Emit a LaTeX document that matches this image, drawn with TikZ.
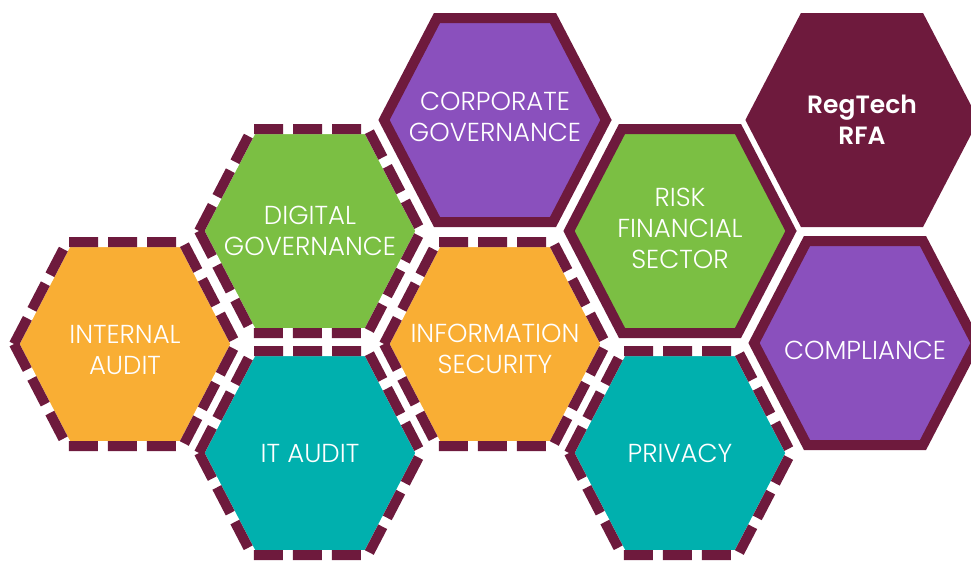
\documentclass[tikz,border=0pt]{standalone}
\usepackage{fontspec}
\setmainfont{Poppins}[UprightFont=* Light, BoldFont=* SemiBold]
\definecolor{hexmaroon}{HTML}{6E1A3D}
\definecolor{hexpurple}{HTML}{8A50BD}
\definecolor{hexgreen}{HTML}{7BBF43}
\definecolor{hexorange}{HTML}{F9AE34}
\definecolor{hexteal}{HTML}{00B0AE}
\tikzset{hexpath/.style={insert path={(-111,0) -- (-58,-102) -- (58,-102) -- (111,0) -- (58,102) -- (-58,102) -- cycle}},
  hexline/.style={draw=hexmaroon, line width=10pt},
  pics/solidhex/.style={code={\path[hexpath, hexline, fill=#1];}},
  pics/dashedhex/.style={code={
    \path[hexpath, fill=#1, draw=white, line width=10pt];
    \path[hexpath, hexline, dash pattern=on 29pt off 10pt];}},
  pics/plainhex/.style={code={\path[hexpath, fill=#1, draw=#1, line width=10pt];}},
  celltext/.style={text=white, align=center, font=\fontsize{26}{31}\selectfont},}

\begin{document}
\begin{tikzpicture}[x=1pt, y=-1pt]
\useasboundingbox (0,0) rectangle (971,562);
% top row
\pic at (495,120) {solidhex=hexpurple};
\pic at (862,120) {plainhex=hexmaroon};
% second row
\pic at (310,231) {dashedhex=hexgreen};
\pic at (680,231) {solidhex=hexgreen};
% third row
\pic at (125,344) {dashedhex=hexorange};
\pic at (495,344) {dashedhex=hexorange};
\pic at (865,343) {solidhex=hexpurple};
% bottom row
\pic at (310,453) {dashedhex=hexteal};
\pic at (680,453) {dashedhex=hexteal};
% labels
\node [celltext] (corporate) at (495,117) {CORPORATE\\GOVERNANCE};
\node [celltext, font=\bfseries\fontsize{25}{31}\selectfont] (regtech) at (862,120) {RegTech\\RFA};
\node [celltext] (digital) at (310,231) {DIGITAL\\GOVERNANCE};
\node [celltext] (risk) at (680,228) {RISK\\FINANCIAL\\SECTOR};
\node [celltext] (internal) at (125,350) {INTERNAL\\AUDIT};
\node [celltext] (infosec) at (495,349) {INFORMATION\\SECURITY};
\node [celltext] (compliance) at (865,350) {COMPLIANCE};
\node [celltext] (itaudit) at (310,453) {IT AUDIT};
\node [celltext] (privacy) at (680,453) {PRIVACY};
\end{tikzpicture}
\end{document}
